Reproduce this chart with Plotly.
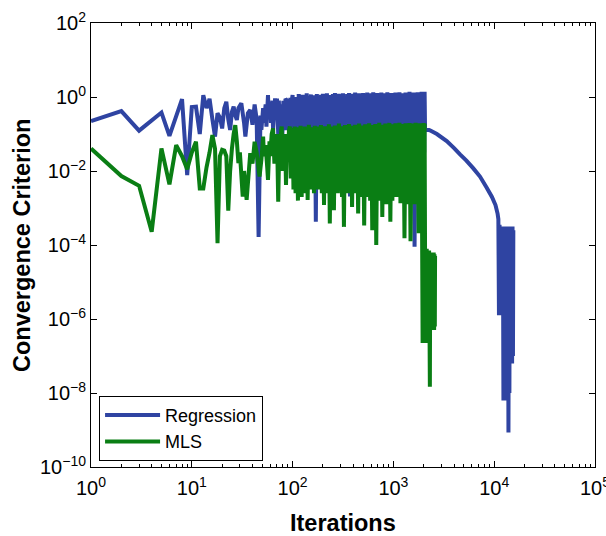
import numpy as np
import plotly.graph_objects as go

# ---------------- data (y values are given as log10 of the criterion) ----------------
# early, sparse part of each run
reg_early_iter = [1, 2, 3, 5, 6, 8, 9, 10, 11, 12, 13, 14, 15, 16, 17, 18, 19, 20, 21, 22, 23, 24, 25, 26, 27,
                  28, 29, 31, 33, 34, 36, 38, 40, 42, 44, 46, 48, 49, 51, 52, 54, 55, 57, 58, 60, 61, 63, 64,
                  66, 67, 69, 70, 72, 73, 75, 77, 79, 81, 83, 85, 87, 89, 91, 93, 95, 97, 98]
reg_early_log10 = [-0.65, -0.38, -0.91, -0.42, -1.05, -0.055, -2.11, -0.27, -0.26, -1.0, 0.05, -0.3, -0.05,
                   -0.6, -1.07, -0.44, -0.55, -0.85, -0.3, -0.13, -0.6, -0.89, -0.4, -0.26, -0.5,
                   -0.62, -0.3, -0.17, -0.7, -1.07, -0.44, -0.35, -0.75, -0.2, -0.6, -3.78, -0.5, -0.89, -0.3,
                   -0.7, -0.2, -0.8, 0.05, -0.53, -0.2, -0.7, -0.1, -0.9,
                   -0.3, -0.04, -0.6, -0.04, -1.0, -0.1, -0.8, -0.2, -1.1, -0.1, -0.9, -0.05, -0.08, -0.9,
                   -0.1, -1.2, -0.02, -1.0, -0.1]

mls_early_iter = [1, 2, 3, 4, 5, 6, 7, 8, 9, 10, 11, 12, 13, 14, 15, 16, 17, 18, 19, 20, 21, 22, 23, 24, 25,
                  26, 27, 28, 29, 30, 32, 33, 35, 38, 40, 42, 44, 47, 49, 51, 52, 54, 56, 57, 59, 60, 62, 64,
                  66, 68, 70, 72, 74, 75, 77, 78, 80, 82, 84, 86, 88, 90, 92, 94, 96, 97, 98]
mls_early_log10 = [-1.39, -2.135, -2.4, -3.64, -1.39, -2.36, -1.30, -1.6, -1.95, -1.5, -1.21, -2.47, -2.47,
                   -1.9, -1.5, -1.03, -1.4, -3.95, -1.6, -1.43, -1.45, -1.6, -3.07, -2.0, -1.4,
                   -1.0, -0.76, -1.2, -1.79, -1.5, -2.69, -2.0, -2.78, -1.52, -1.8, -1.21, -1.5, -2.15, -1.7,
                   -1.07, -1.6, -1.3, -1.9, -2.24, -1.2, -1.6, -1.0, -0.85,
                   -1.8, -1.4, -1.0, -2.83, -1.1, -1.5, -0.9, -0.8, -2.0, -1.2, -1.0, -2.38, -1.1, -1.6,
                   -0.9, -0.8, -2.2, -1.3, -0.9]

# dense oscillating band (iterations 100 - 2040): crest and trough iterations shared by both runs
band_crest_iter = [100, 105, 110, 115, 120, 126, 132, 138, 145, 152, 159, 166, 174, 182, 191, 200, 209, 219,
                   229, 240, 251, 263, 275, 288, 302, 316, 331, 347, 363, 380, 398, 417, 437, 457, 479, 501,
                   525, 550, 575, 603, 631, 661, 692, 724, 759, 794, 832, 871, 912, 955, 1000, 1047, 1096,
                   1148, 1202, 1259, 1318, 1380, 1445, 1514, 1585, 1660, 1738, 1820, 1905, 1995, 2040]
band_trough_iter = [102, 107, 113, 118, 123, 129, 135, 141, 148, 155, 163, 170, 178, 186, 195, 205, 214, 224,
                    234, 246, 257, 269, 281, 295, 309, 323, 339, 355, 371, 389, 407, 427, 447, 468, 490, 513,
                    537, 563, 588, 617, 646, 676, 708, 741, 776, 812, 851, 891, 933, 977, 1023, 1071, 1121,
                    1175, 1230, 1288, 1349, 1412, 1479, 1549, 1622, 1698, 1778, 1862, 1949, 2020]

reg_crest_log10 = [0.05, 0.0, -0.05, 0.08, 0.02, 0.06, 0.0, 0.1, 0.03, 0.07,
                   -0.02, 0.05, 0.08, 0.01, 0.06, 0.09, 0.03, 0.1, 0.05, 0.02,
                   0.08, 0.11, 0.04, 0.09, 0.06, 0.1, 0.03, 0.08, 0.11, 0.05,
                   0.09, 0.12, 0.06, 0.1, 0.04, 0.11, 0.08, 0.12, 0.06, 0.1,
                   0.13, 0.07, 0.11, 0.09, 0.12, 0.05, 0.1, 0.13, 0.08, 0.11,
                   0.06, 0.12, 0.09, 0.13, 0.1, 0.07, 0.12, 0.11, 0.14, 0.08,
                   0.12, 0.1, 0.13, 0.11, 0.14, 0.12, 0.14]
reg_trough_log10 = [-1.4, -1.5, -1.3, -1.6, -1.4, -1.5, -1.4, -1.3, -1.5, -1.4,
                    -1.6, -3.37, -1.4, -1.5, -1.3, -1.4, -1.6, -1.5, -1.4, -1.3,
                    -1.5, -1.4, -1.6, -1.5, -1.4, -1.3, -1.5, -1.4, -2.69, -1.5,
                    -1.4, -1.6, -1.5, -1.4, -1.3, -1.5, -1.4, -1.6, -1.5, -1.4,
                    -1.3, -1.5, -1.4, -1.6, -1.5, -1.4, -1.3, -1.5, -1.4, -1.6,
                    -1.5, -1.4, -1.3, -1.5, -1.4, -1.6, -1.5, -1.4, -1.3, -1.5,
                    -4.05, -1.4, -1.5, -1.3, -1.4, -1.5]
mls_crest_log10 = [-0.85, -0.8, -0.9, -0.82, -0.78, -0.86, -0.8, -0.84, -0.75, -0.82,
                   -0.88, -0.78, -0.8, -0.85, -0.76, -0.82, -0.79, -0.86, -0.74, -0.8,
                   -0.83, -0.77, -0.8, -0.72, -0.79, -0.84, -0.76, -0.8, -0.73, -0.78,
                   -0.82, -0.75, -0.79, -0.72, -0.77, -0.8, -0.74, -0.78, -0.71, -0.76,
                   -0.8, -0.73, -0.77, -0.7, -0.75, -0.79, -0.72, -0.76, -0.7, -0.74,
                   -0.78, -0.71, -0.75, -0.7, -0.73, -0.77, -0.71, -0.74, -0.7, -0.72,
                   -0.76, -0.7, -0.73, -0.71, -0.74, -0.7, -0.72]
mls_trough_log10 = [-2.5, -2.6, -2.8, -2.4, -2.7, -2.5, -2.6, -2.78, -2.4, -2.5,
                    -2.6, -2.3, -2.5, -2.4, -2.6, -2.92, -2.5, -2.6, -3.42, -2.5,
                    -3.06, -2.4, -2.6, -2.5, -2.7, -3.51, -2.5, -2.6, -2.4, -2.97,
                    -2.6, -2.5, -3.15, -2.7, -2.6, -3.47, -2.7, -2.6, -2.8, -3.6,
                    -2.7, -4.0, -2.8, -2.6, -3.24, -2.7, -2.9, -2.6, -3.37, -2.8,
                    -2.6, -2.7, -2.5, -2.87, -2.7, -3.82, -2.8, -2.9, -3.9, -2.8,
                    -2.9, -2.7, -3.68, -2.9, -6.65, -6.6]

# late part of each run
reg_late_iter = [2060, 2300, 2700, 3380, 4000, 4580, 5300, 6210, 7230, 8430, 9500, 10300, 10800,
                 11000, 11150, 11300, 11450, 11600, 11750, 11900, 12050, 12200, 12350, 12500, 12650,
                 12800, 12950, 13100, 13250, 13400, 13550, 13700, 13850, 14000, 14150, 14300, 14450,
                 14600, 14750, 14900, 15050, 15200, 15350, 15480]
reg_late_log10 = [-0.85, -0.9, -1.0, -1.19, -1.38, -1.55, -1.72, -1.93, -2.15, -2.45, -2.7, -2.92, -3.15,
                  -3.3, -5.9, -3.45, -5.9, -3.5, -5.9, -3.5, -5.9, -3.5, -8.2, -3.5, -8.2,
                  -3.5, -8.2, -3.5, -8.2, -3.55, -7.5, -3.55, -9.07, -3.5, -8.0, -3.5, -7.2,
                  -3.5, -7.2, -3.5, -7.2, -3.5, -7.0, -3.6]
mls_late_iter = [2060, 2080, 2100, 2120, 2140, 2160, 2180, 2200, 2220, 2240, 2260, 2300, 2320, 2340, 2360,
                 2385, 2410, 2435, 2460, 2485, 2510, 2535, 2555, 2575, 2590]
mls_late_log10 = [-4.1, -6.6, -4.1, -6.65, -4.1, -6.6, -4.15, -6.5, -4.15, -6.4, -4.15, -7.83, -4.2, -6.3,
                  -4.2, -6.3, -4.2, -6.3, -4.2, -6.3, -4.2, -6.3, -4.25, -6.2, -4.3]

series_names = ["Regression", "MLS"]
series_colors = ["#2f44a2", "#0a7e14"]

x_tick_values = [1, 10, 100, 1000, 10000, 100000]
x_tick_text = ["10<sup>0</sup>", "10<sup>1</sup>", "10<sup>2</sup>", "10<sup>3</sup>", "10<sup>4</sup>",
               "10<sup>5</sup>"]
y_tick_values = [1e2, 1e0, 1e-2, 1e-4, 1e-6, 1e-8, 1e-10]
y_tick_text = ["10<sup>2</sup>", "10<sup>0</sup>", "10<sup>−2</sup>", "10<sup>−4</sup>", "10<sup>−6</sup>",
               "10<sup>−8</sup>", "10<sup>−10</sup>"]


def assemble(early_x, early_y, crest_y, trough_y, late_x, late_y):
    xs, ys = list(early_x), list(early_y)
    for i, cx in enumerate(band_crest_iter):
        xs.append(cx)
        ys.append(crest_y[i])
        if i < len(band_trough_iter):
            xs.append(band_trough_iter[i])
            ys.append(trough_y[i])
    xs += late_x
    ys += late_y
    return xs, np.power(10.0, np.array(ys))


reg_x, reg_y = assemble(reg_early_iter, reg_early_log10, reg_crest_log10, reg_trough_log10,
                        reg_late_iter, reg_late_log10)
mls_x, mls_y = assemble(mls_early_iter, mls_early_log10, mls_crest_log10, mls_trough_log10,
                        mls_late_iter, mls_late_log10)

# ---------------- figure ----------------
fig = go.Figure()
fig.add_trace(go.Scatter(x=reg_x, y=reg_y, mode="lines", name=series_names[0],
                         line=dict(color=series_colors[0], width=4, simplify=False)))
fig.add_trace(go.Scatter(x=mls_x, y=mls_y, mode="lines", name=series_names[1],
                         line=dict(color=series_colors[1], width=4, simplify=False)))

axis_common = dict(type="log", showline=True, linecolor="black", linewidth=1, mirror="allticks",
                   ticks="inside", ticklen=6, tickcolor="black", tickwidth=1, showgrid=False,
                   zeroline=False, tickmode="array", ticklabeloverflow="allow", automargin=False,
                   tickfont=dict(size=20, color="black"))

fig.update_xaxes(**axis_common, range=[0, 5], tickvals=x_tick_values, ticktext=x_tick_text,
                 ticklabelstandoff=3,
                 minor=dict(ticks="inside", ticklen=3, tickcolor="black", showgrid=False, dtick="D1"))
fig.update_yaxes(**axis_common, range=[-10, 2], tickvals=y_tick_values, ticktext=y_tick_text)

fig.add_annotation(text="<b>Iterations</b>", xref="paper", yref="paper", x=0.5, y=-0.126,
                   xanchor="center", yanchor="middle", showarrow=False,
                   font=dict(size=23.5, color="black"))
fig.add_annotation(text="<b>Convergence Criterion</b>", xref="paper", yref="paper", x=-0.137, y=0.5,
                   xanchor="center", yanchor="middle", textangle=-90, showarrow=False,
                   font=dict(size=23.5, color="black"))

fig.update_layout(width=606, height=536, margin=dict(l=91, r=11, t=23, b=69, autoexpand=False),
                  plot_bgcolor="white", paper_bgcolor="white",
                  font=dict(family="Liberation Sans, Arial, Helvetica, sans-serif", color="black"),
                  legend=dict(x=0.016, y=0.014, xanchor="left", yanchor="bottom", bgcolor="white",
                              bordercolor="black", borderwidth=1, font=dict(size=18, color="black"),
                              itemwidth=55, tracegroupgap=0))

fig.write_html("out.html", config={"displayModeBar": False},
               post_script="document.body.style.margin='0';document.body.style.overflow='hidden';")
